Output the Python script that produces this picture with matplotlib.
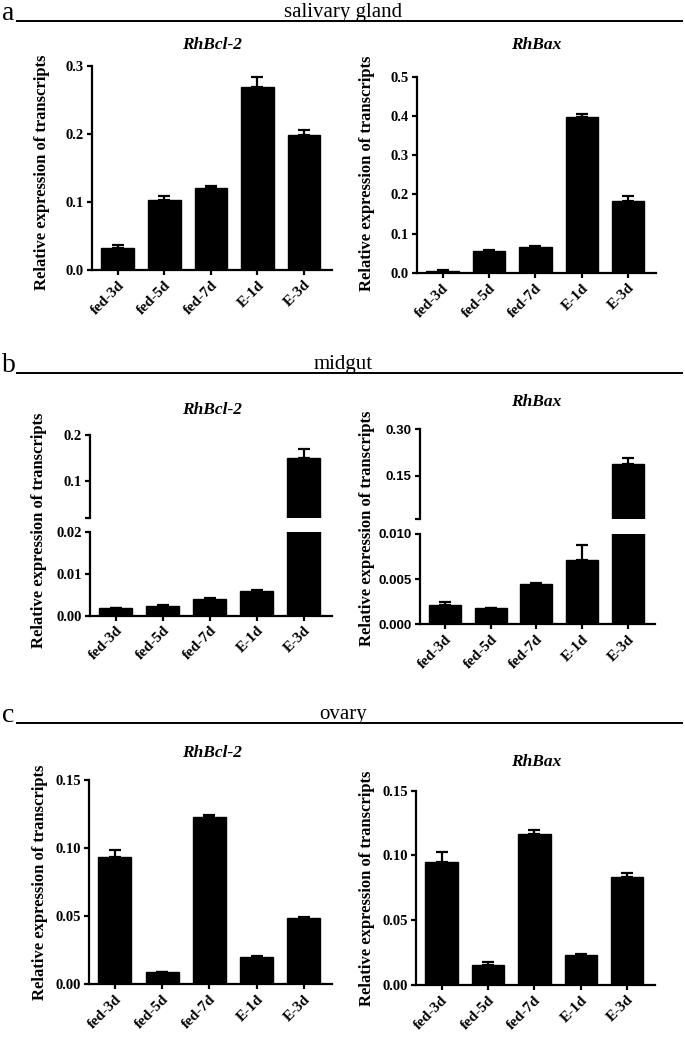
import matplotlib
matplotlib.use("Agg")
import matplotlib.pyplot as plt
from matplotlib.lines import Line2D

# data
stages = ["fed-3d", "fed-5d", "fed-7d", "E-1d", "E-3d"]

sg_bcl2 = [0.033, 0.103, 0.121, 0.269, 0.198]
sg_bcl2_err = [0.003, 0.005, 0.003, 0.015, 0.007]
sg_bax = [0.004, 0.055, 0.065, 0.398, 0.184]
sg_bax_err = [0.003, 0.003, 0.005, 0.006, 0.011]

mg_bcl2 = [0.0018, 0.0023, 0.0041, 0.0059, 0.149]
mg_bcl2_err = [0.0001, 0.0002, 0.0002, 0.0003, 0.020]
mg_bax = [0.0021, 0.0018, 0.0044, 0.0071, 0.186]
mg_bax_err = [0.0004, 0.00005, 0.0002, 0.0017, 0.021]

ov_bcl2 = [0.0937, 0.0088, 0.1226, 0.0203, 0.0489]
ov_bcl2_err = [0.005, 0.0005, 0.0015, 0.0005, 0.0008]
ov_bax = [0.0947, 0.0154, 0.1166, 0.0232, 0.0831]
ov_bax_err = [0.008, 0.0026, 0.0031, 0.0007, 0.0031]

W, H = 685, 1038
SERIF = ["Liberation Serif", "DejaVu Serif"]
SANS = ["Liberation Sans", "DejaVu Sans"]
YLABEL = "Relative expression of transcripts"

fig = plt.figure(figsize=(W / 100, H / 100), dpi=100)


def px_axes(left, top, right, bottom):
    return fig.add_axes([left / W, 1 - bottom / H, (right - left) / W, (bottom - top) / H])


def style(ax, tick_family=SERIF, tick_size=10.5):
    for s in ["top", "right"]:
        ax.spines[s].set_visible(False)
    for s in ["left", "bottom"]:
        ax.spines[s].set_linewidth(1.6)
    ax.tick_params(direction="out", length=3.5, width=1.6, pad=2.5)
    ax.set_xlim(-0.55, 4.6)
    for lab in ax.get_yticklabels():
        lab.set_family(tick_family)
        lab.set_fontweight("bold")
        lab.set_fontsize(tick_size)


def draw_bars(ax, vals, errs, floor=None):
    x = [i for i in range(len(stages)) if floor is None or vals[i] > floor]
    v = [vals[i] for i in x]
    e = [errs[i] for i in x]
    ax.bar(x, v, width=0.7, color="black", edgecolor="black", linewidth=1)
    ax.errorbar(x, v, yerr=[[0] * len(e), e], fmt="none", ecolor="black",
                elinewidth=1.6, capsize=4.5, capthick=1.6)


def xlabels(ax):
    ax.set_xticks(range(len(stages)))
    ax.set_xticklabels(stages, rotation=45, ha="right", rotation_mode="anchor",
                       family=SERIF, fontweight="bold", fontsize=11)


def simple_panel(box, vals, errs, ymax, ticks, fmt):
    ax = px_axes(*box)
    draw_bars(ax, vals, errs)
    ax.set_ylim(0, ymax)
    ax.set_yticks(ticks)
    ax.set_yticklabels([fmt.format(t) for t in ticks])
    xlabels(ax)
    style(ax)
    return ax


def broken_panel(top_box, bot_box, vals, errs, lo_lim, hi_lim, lo_ticks, lo_fmt,
                 hi_ticks, hi_labels, tick_family):
    ax_hi = px_axes(*top_box)
    ax_lo = px_axes(*bot_box)
    draw_bars(ax_lo, vals, errs)
    draw_bars(ax_hi, vals, errs, floor=hi_lim[0])
    ax_lo.set_ylim(*lo_lim)
    ax_lo.set_yticks(lo_ticks)
    ax_lo.set_yticklabels([lo_fmt.format(t) for t in lo_ticks])
    xlabels(ax_lo)
    ax_hi.set_ylim(*hi_lim)
    ax_hi.set_yticks(hi_ticks)
    ax_hi.set_yticklabels(hi_labels)
    ax_hi.set_xticks([])
    size = 9.5 if tick_family == SANS else 10.5
    style(ax_lo, tick_family, size)
    style(ax_hi, tick_family, size)
    ax_hi.set_xlim(-0.55, 4.6)
    ax_hi.spines["bottom"].set_visible(False)


def header(letter, name, y_line):
    fig.add_artist(Line2D([17 / W, 682 / W], [1 - y_line / H] * 2, color="black", linewidth=1.4))
    fig.text(2 / W, 1 - (y_line - 1) / H, letter, family=SERIF, fontsize=20, va="baseline")
    fig.text(343 / W, 1 - (y_line - 4) / H, name, family=SERIF, fontsize=15,
             ha="center", va="baseline")


def title(x, y, txt):
    fig.text(x / W, 1 - y / H, txt, family=SERIF, fontweight="bold", style="italic",
             fontsize=12.5, ha="center", va="center")


def ylab(x, y):
    fig.text(x / W, 1 - y / H, YLABEL, family=SERIF, fontweight="bold", fontsize=12,
             rotation=90, ha="center", va="center")


# a: salivary gland
header("a", "salivary gland", 20.7)
title(212, 45, "RhBcl-2")
title(536, 45, "RhBax")
simple_panel((92, 65.7, 332, 270), sg_bcl2, sg_bcl2_err, 0.3,
             [0.0, 0.1, 0.2, 0.3], "{:.1f}")
simple_panel((417, 76.7, 656, 273), sg_bax, sg_bax_err, 0.5,
             [0.0, 0.1, 0.2, 0.3, 0.4, 0.5], "{:.1f}")
ylab(42, 172)
ylab(367, 173)

# b: midgut
header("b", "midgut", 373)
title(212, 410, "RhBcl-2")
title(536, 402, "RhBax")
broken_panel((90, 435, 332, 517.7), (90, 532.3, 332, 615.7), mg_bcl2, mg_bcl2_err,
             (0, 0.02), (0.02, 0.2), [0.0, 0.01, 0.02], "{:.2f}",
             [0.02, 0.1, 0.2], ["", "0.1", "0.2"], SERIF)
broken_panel((420, 429, 655, 519), (420, 533.7, 655, 624.3), mg_bax, mg_bax_err,
             (0, 0.010), (0.010, 0.30), [0.0, 0.005, 0.010], "{:.3f}",
             [0.010, 0.15, 0.30], ["", "0.15", "0.30"], SANS)
ylab(39, 530)
ylab(367, 528)

# c: ovary
header("c", "ovary", 723.3)
title(212, 753, "RhBcl-2")
title(536, 762, "RhBax")
simple_panel((89, 780, 332, 984.3), ov_bcl2, ov_bcl2_err, 0.15,
             [0.0, 0.05, 0.10, 0.15], "{:.2f}")
simple_panel((416, 790.7, 655, 985), ov_bax, ov_bax_err, 0.15,
             [0.0, 0.05, 0.10, 0.15], "{:.2f}")
ylab(40, 882)
ylab(367, 888)

fig.savefig("out.png", dpi=100)
